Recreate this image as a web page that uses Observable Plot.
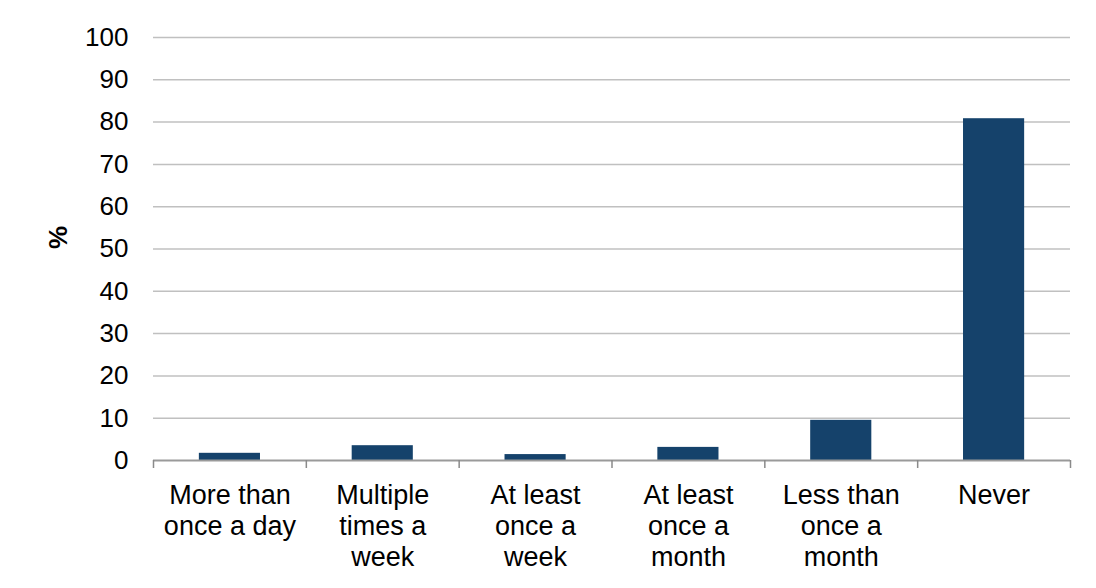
<!DOCTYPE html>
<html>
<head>
<meta charset="utf-8">
<script src="https://cdn.jsdelivr.net/npm/d3@7"></script>
<script src="https://cdn.jsdelivr.net/npm/@observablehq/plot@0.6"></script>
<style>
  html, body { margin: 0; padding: 0; background: #fff; }
  #chart { width: 1096px; height: 588px; }
</style>
</head>
<body>
<div id="chart"></div>
<script>
const categories = [
  "More than once a day",
  "Multiple times a week",
  "At least once a week",
  "At least once a month",
  "Less than once a month",
  "Never"
];
const values = [1.7, 3.5, 1.4, 3.1, 9.5, 80.8];
const tickLabels = [
  "More than\nonce a day",
  "Multiple\ntimes a\nweek",
  "At least\nonce a\nweek",
  "At least\nonce a\nmonth",
  "Less than\nonce a\nmonth",
  "Never"
];
const yTicks = [0, 10, 20, 30, 40, 50, 60, 70, 80, 90, 100];
const yLabel = "%";

const data = categories.map((c, i) => ({category: c, value: values[i]}));

const W = 1096, H = 588, ML = 153, MR = 26, MT = 37, MB = 128;
const step = (W - ML - MR) / categories.length;

const chart = Plot.plot({
  width: W,
  height: H,
  marginLeft: ML,
  marginRight: MR,
  marginTop: MT,
  marginBottom: MB,
  style: {fontFamily: "'Liberation Sans', Arial, sans-serif", color: "#000", background: "#fff"},
  x: {type: "band", domain: categories, paddingInner: 0.6, paddingOuter: 0.3, round: false},
  y: {domain: [0, 100], ticks: yTicks},
  marks: [
    Plot.gridY(yTicks.filter(d => d > 0), {stroke: "#c0c0c0", strokeOpacity: 1, strokeWidth: 1.5}),
    Plot.barY(data, {x: "category", y: "value", fill: "#15426b"}),
    Plot.ruleY([0], {stroke: "#9a9a9a", strokeWidth: 2}),
    Plot.ruleX(categories, {x: d => d, y1: 0, y2: 0, insetBottom: -8, dx: -step / 2, stroke: "#8a8a8a", strokeWidth: 1.5}),
    Plot.ruleX([categories[categories.length - 1]], {x: d => d, y1: 0, y2: 0, insetBottom: -8, dx: step / 2, stroke: "#8a8a8a", strokeWidth: 1.5}),
    Plot.axisY({ticks: yTicks, tickSize: 0, tickPadding: 25, fontSize: 26, label: null}),
    Plot.axisX({tickSize: 0, tickPadding: 21, fontSize: 27, lineHeight: 1.15, label: null,
      tickFormat: d => tickLabels[categories.indexOf(d)]}),
    Plot.text([yLabel], {frameAnchor: "left", dx: -95, rotate: -90, fontSize: 26, fontWeight: "bold", text: d => d})
  ]
});
document.getElementById("chart").appendChild(chart);
</script>
</body>
</html>
